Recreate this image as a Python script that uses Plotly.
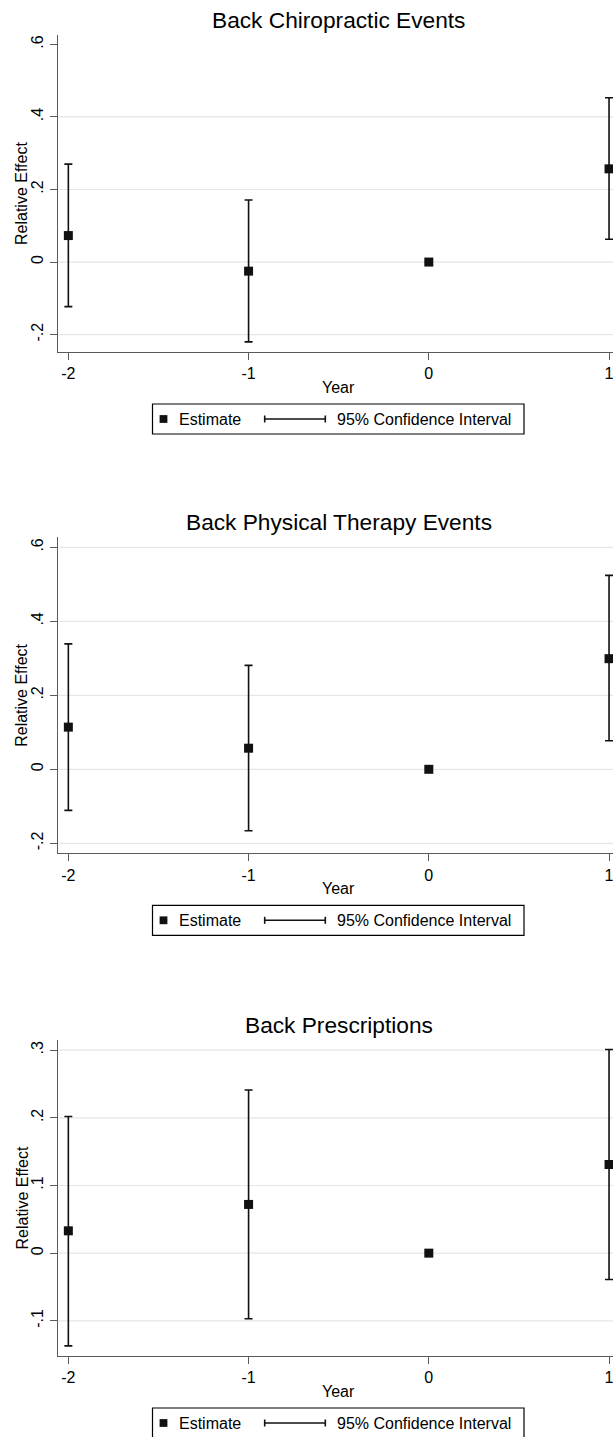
import plotly.graph_objects as go

# ---------------- data ----------------
years = [-2, -1, 0, 1]
xtick_text = ["-2", "-1", "0", "1"]

titles = ["Back Chiropractic Events", "Back Physical Therapy Events", "Back Prescriptions"]

chiro_est = [0.073, -0.025, 0.0, 0.257]
chiro_lo = [-0.123, -0.220, None, 0.063]
chiro_hi = [0.270, 0.171, None, 0.453]

pt_est = [0.114, 0.057, 0.0, 0.299]
pt_lo = [-0.111, -0.166, None, 0.077]
pt_hi = [0.339, 0.281, None, 0.524]

rx_est = [0.033, 0.072, 0.0, 0.131]
rx_lo = [-0.137, -0.097, None, -0.039]
rx_hi = [0.202, 0.241, None, 0.301]

ytick_vals_1 = [-0.2, 0.0, 0.2, 0.4, 0.6]
ytick_text_1 = ["-.2", "0", ".2", ".4", ".6"]
ytick_vals_2 = [-0.2, 0.0, 0.2, 0.4, 0.6]
ytick_text_2 = ["-.2", "0", ".2", ".4", ".6"]
ytick_vals_3 = [-0.1, 0.0, 0.1, 0.2, 0.3]
ytick_text_3 = ["-.1", "0", ".1", ".2", ".3"]

grid_1 = [-0.2, 0.0, 0.2, 0.4]
grid_2 = [-0.2, 0.0, 0.2, 0.4, 0.6]
grid_3 = [-0.1, 0.0, 0.1, 0.2, 0.3]

yranges = [[-0.248, 0.626], [-0.227, 0.627], [-0.152, 0.315]]

# ---------------- layout helpers ----------------
W, H = 613, 1437
FONT = "Liberation Sans, Arial, sans-serif"
def px(x):
    return x / W
def py(y):
    return 1 - y / H

tops = [35, 537.3, 1040]
bottoms = [352, 853.3, 1356]
left_px = 57.9
xrange_ = [-2.058, 1.022]
axis_col = "#5a5a5a"
ink = "#111111"

panels = [
    (chiro_est, chiro_lo, chiro_hi, ytick_vals_1, ytick_text_1, grid_1),
    (pt_est, pt_lo, pt_hi, ytick_vals_2, ytick_text_2, grid_2),
    (rx_est, rx_lo, rx_hi, ytick_vals_3, ytick_text_3, grid_3),
]

fig = go.Figure()
shapes = []
annotations = []

for i, (est, lo, hi, tv, tt, grid) in enumerate(panels):
    n = i + 1
    xa = "x" if n == 1 else f"x{n}"
    ya = "y" if n == 1 else f"y{n}"
    plus = [(h - e) if h is not None else None for h, e in zip(hi, est)]
    minus = [(e - l) if l is not None else None for l, e in zip(lo, est)]
    fig.add_trace(go.Scatter(
        x=years, y=est, mode="markers", xaxis=xa, yaxis=ya,
        marker=dict(symbol="square", size=9, color=ink),
        error_y=dict(type="data", symmetric=False, array=plus, arrayminus=minus,
                     color=ink, thickness=1.6, width=4),
        showlegend=False, cliponaxis=False,
    ))
    T, B = tops[i], bottoms[i]
    fig.update_layout(**{
        ("xaxis" if n == 1 else f"xaxis{n}"): dict(
            domain=[px(left_px), 1], range=xrange_, anchor=ya,
            tickvals=years, ticktext=xtick_text, ticks="outside", ticklen=7,
            tickcolor=axis_col, tickwidth=1.2, showline=True, linecolor=axis_col,
            linewidth=1.2, showgrid=False, zeroline=False, ticklabeloverflow="allow",
            tickfont=dict(family=FONT, size=16, color="#000"),
        ),
        ("yaxis" if n == 1 else f"yaxis{n}"): dict(
            domain=[py(B), py(T)], range=yranges[i], anchor=xa,
            tickvals=tv, ticktext=tt, tickangle=-90, ticks="outside", ticklen=7,
            tickcolor=axis_col, tickwidth=1.2, showline=True, linecolor=axis_col,
            linewidth=1.2, showgrid=False, zeroline=False, ticklabeloverflow="allow",
            tickfont=dict(family=FONT, size=16, color="#000"),
        ),
    })
    for g in grid:
        shapes.append(dict(type="line", xref=f"{xa} domain", yref=ya,
                           x0=0, x1=1, y0=g, y1=g,
                           line=dict(color="#e6e6e6", width=1.2), layer="below"))
    # title
    annotations.append(dict(text=titles[i], x=px(339), y=py(T - 15.5), xref="paper", yref="paper",
                            xanchor="center", yanchor="middle", showarrow=False,
                            font=dict(family=FONT, size=22.7, color="#000")))
    # x title
    annotations.append(dict(text="Year", x=px(338), y=py(B + 35), xref="paper", yref="paper",
                            xanchor="center", yanchor="middle", showarrow=False,
                            font=dict(family=FONT, size=16, color="#000")))
    # y title
    annotations.append(dict(text="Relative Effect", x=px(21.5), y=py((T + B) / 2), xref="paper",
                            yref="paper", xanchor="center", yanchor="middle", showarrow=False,
                            textangle=-90, font=dict(family=FONT, size=16, color="#000")))
    # legend box
    ly0, ly1 = B + 52, B + 82
    lc = (ly0 + ly1) / 2
    shapes.append(dict(type="rect", xref="paper", yref="paper",
                       x0=px(152.5), x1=px(524), y0=py(ly1), y1=py(ly0),
                       line=dict(color="#000", width=1.2), fillcolor="white"))
    shapes.append(dict(type="rect", xref="paper", yref="paper",
                       x0=px(159.6), x1=px(167.4), y0=py(lc + 3.9), y1=py(lc - 3.9),
                       line=dict(width=0), fillcolor=ink))
    shapes.append(dict(type="line", xref="paper", yref="paper",
                       x0=px(264.7), x1=px(325.3), y0=py(lc), y1=py(lc),
                       line=dict(color=ink, width=1.6)))
    for cx in (264.7, 325.3):
        shapes.append(dict(type="line", xref="paper", yref="paper",
                           x0=px(cx), x1=px(cx), y0=py(lc - 3.5), y1=py(lc + 3.5),
                           line=dict(color=ink, width=1.6)))
    annotations.append(dict(text="Estimate", x=px(176.5), y=py(lc), xref="paper", yref="paper",
                            xanchor="left", yanchor="middle", showarrow=False,
                            font=dict(family=FONT, size=16, color="#000")))
    annotations.append(dict(text="95% Confidence Interval", x=px(335.2), y=py(lc), xref="paper",
                            yref="paper", xanchor="left", yanchor="middle", showarrow=False,
                            font=dict(family=FONT, size=16, color="#000")))

fig.update_layout(
    width=W, height=H, margin=dict(l=0, r=0, t=0, b=0),
    paper_bgcolor="white", plot_bgcolor="white",
    shapes=shapes, annotations=annotations, showlegend=False,
    font=dict(family=FONT, color="#000"),
)

fig.write_html(
    "out.html",
    config={"displayModeBar": False},
    post_script="document.body.style.margin='0';document.body.style.overflow='hidden';",
)
